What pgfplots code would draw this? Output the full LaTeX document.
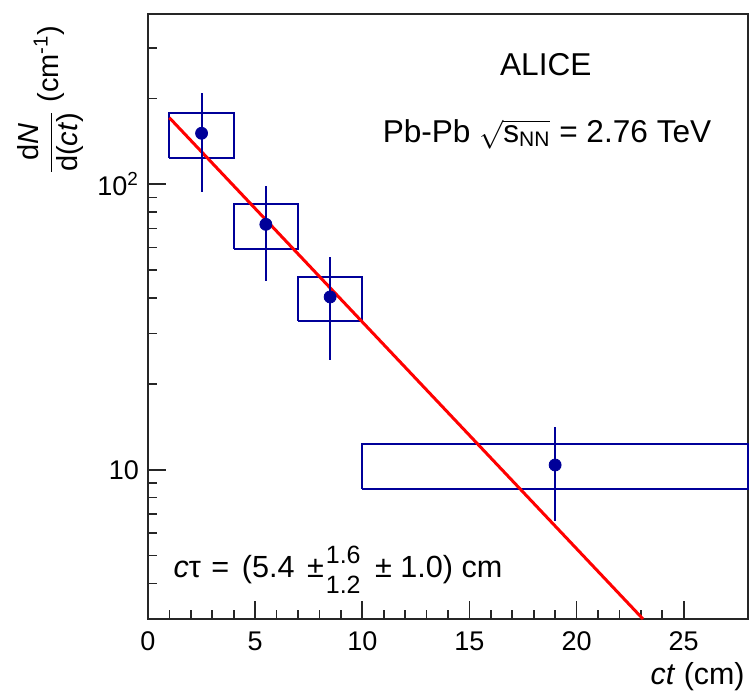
\documentclass[border=0pt]{standalone}
\usepackage{fontspec}
\setmainfont{Liberation Sans}
\usepackage{pgfplots}
\pgfplotsset{compat=1.18}
\definecolor{rootblue}{RGB}{0,0,153}
\definecolor{rootred}{RGB}{255,0,0}
\newcommand{\scr}[1]{{\fontsize{12.5}{13}\selectfont #1}}
\begin{document}
\begin{tikzpicture}
\begin{axis}[
  scale only axis,
  width=300pt, height=302.5pt,
  xmin=0, xmax=28,
  ymode=log, ymin=3.0, ymax=395,
  log basis y=10,
  xtick={0,5,10,15,20,25},
  minor x tick num=4,
  ytick={10,100},
  yticklabels={10,10\textsuperscript{2}},
  minor ytick={4,5,6,7,8,9,20,30,40,50,60,70,80,90,200,300},
  tick pos=left,
  tick align=inside,
  major tick length=9pt,
  minor tick length=4.5pt,
  axis line style={line width=0.9pt, black!85},
  every tick/.style={line width=0.8pt, black!85},
  /pgf/number format/assume math mode=true,
  ticklabel style={font=\fontsize{13.5}{15}\selectfont},
  xticklabel style={yshift=-3pt},
  yticklabel style={xshift=-1pt},
  clip=false,
]
% systematic boxes
\addplot[rootblue, line width=1pt, mark=none, line join=miter] coordinates {(1,123.3) (4,123.3) (4,178.1) (1,178.1) (1,123.3)};
\addplot[rootblue, line width=1pt, mark=none, line join=miter] coordinates {(4,59.4) (7,59.4) (7,85.3) (4,85.3) (4,59.4)};
\addplot[rootblue, line width=1pt, mark=none, line join=miter] coordinates {(7,33.2) (10,33.2) (10,47.5) (7,47.5) (7,33.2)};
\addplot[rootblue, line width=1pt, mark=none, line join=miter] coordinates {(10,8.54) (28,8.54) (28,12.27) (10,12.27) (10,8.54)};
% fit
\addplot[rootred, line width=1.5pt, mark=none] coordinates {(1,171) (23.1,3.0)};
% data with stat errors
\addplot[rootblue, only marks, mark=*, mark size=3pt, mark options={fill=rootblue, draw=rootblue},
  error bars/.cd, y dir=both, y explicit, error mark=none,
  error bar style={line width=1pt, rootblue}]
  coordinates {
  (2.5,150.9) += (0,57.3) -= (0,57.1)
  (5.5,72.4) += (0,26.2) -= (0,26.4)
  (8.5,40.3) += (0,15.5) -= (0,16.0)
  (19,10.39) += (0,3.71) -= (0,3.76)
  };
% texts
\node[anchor=base, font=\fontsize{15.8}{18}\selectfont] at (rel axis cs:0.663,0.899) {ALICE};
\node[anchor=base, font=\fontsize{15.8}{18}\selectfont] at (rel axis cs:0.665,0.788) {Pb-Pb $\sqrt{\mbox{s}_{\mbox{\fontsize{10.5}{12}\selectfont NN}}}$ = 2.76 TeV};
\node[anchor=base west, inner sep=0pt, font=\fontsize{15.3}{17}\selectfont] at (rel axis cs:0.042,0.0694) {\textit{c}τ\hspace{1pt} =\hspace{2pt} (5.4\hspace{2pt} ±\hspace{1pt}\makebox[0pt][l]{\raisebox{7pt}{\scr{1.6}}}\raisebox{-8pt}{\scr{1.2}}\hspace{3pt} ± 1.0) cm};
\node[anchor=base east, inner sep=0pt, font=\fontsize{15.2}{17}\selectfont] at (rel axis cs:0.995,-0.109) {\textit{ct} (cm)};
\node[rotate=90, font=\fontsize{14.5}{17}\selectfont] at (rel axis cs:-0.162,0.858) {$\displaystyle\frac{\mbox{d\textit{N}}}{\mbox{d(\textit{ct})}}$ (cm\textsuperscript{-1})};
\end{axis}
\pgfresetboundingbox
\path[use as bounding box] ([shift={(-74pt,-39pt)}]current axis.south west) rectangle ([shift={(301.5pt,309.5pt)}]current axis.south west);
\end{tikzpicture}
\end{document}
